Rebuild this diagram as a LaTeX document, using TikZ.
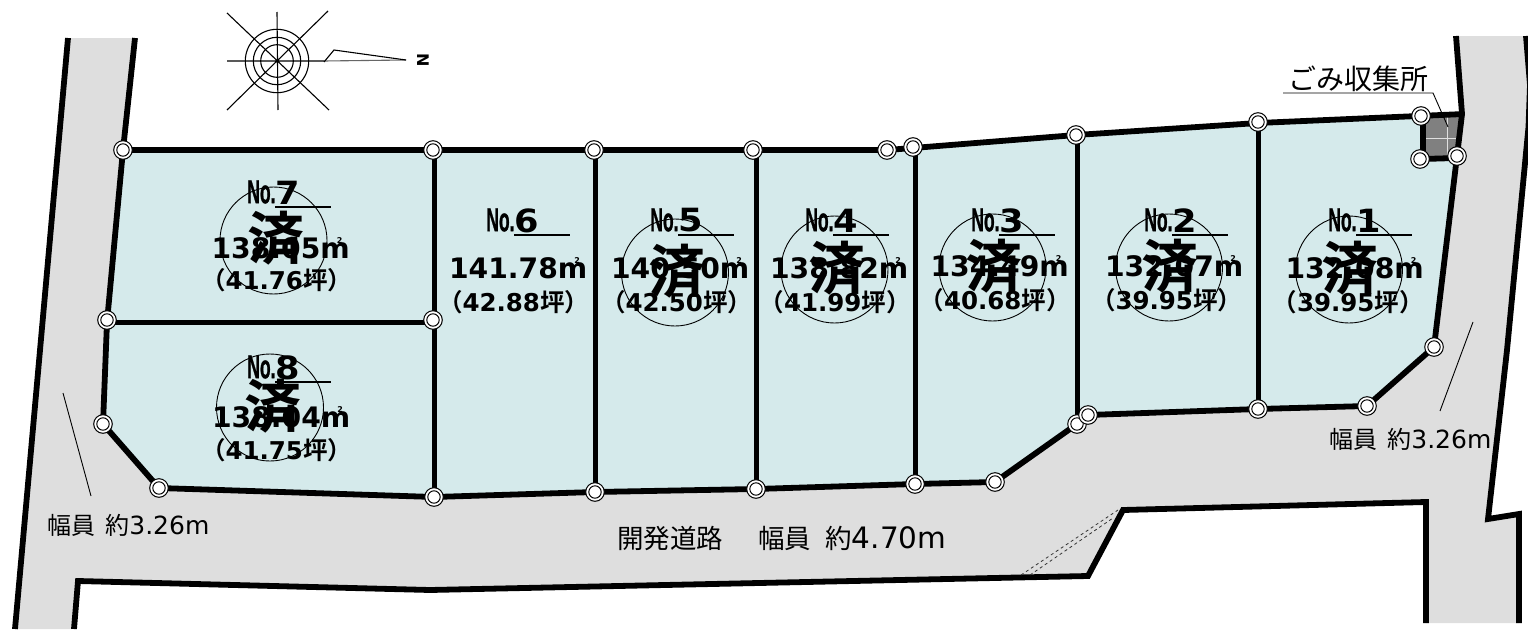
\documentclass[tikz,border=0pt]{standalone}
\usepackage{fontspec}
\usepackage{graphicx}
\setmainfont{DejaVu Sans}
\newfontfamily\lib[FakeBold=1.2]{Liberation Sans Bold}
\newfontfamily\cjk[BoldFont=Noto Sans CJK JP Bold]{Noto Sans CJK JP}
\definecolor{roadc}{HTML}{DEDEDE}
\definecolor{lotc}{HTML}{D5EAEB}
\definecolor{boxc}{HTML}{808080}
\newcommand{\fs}[1]{\fontsize{#1}{#1}\selectfont}
\tikzset{
  plan/.style={line width=5.8pt,line join=miter,black},
  lotline/.style={line width=5pt,black},
  txt/.style={inner sep=0pt,outer sep=0pt,anchor=center,black},
  thinl/.style={line width=0.9pt,black},
}
\newcommand{\pin}[2]{\fill[white] (#1,#2) circle (9.3); \draw[line width=1pt] (#1,#2) circle (9.3); \draw[line width=1pt] (#1,#2) circle (6.2);}
\newcommand{\sqm}{m\raisebox{.54em}{\kern-.46em\fs{8}2}}
\newcommand{\tsubo}[1]{\csname tsb#1\endcsname}
\expandafter\def\csname tsb1\endcsname{39.95}
\expandafter\def\csname tsb2\endcsname{39.95}
\expandafter\def\csname tsb3\endcsname{40.68}
\expandafter\def\csname tsb4\endcsname{41.99}
\expandafter\def\csname tsb5\endcsname{42.50}
\expandafter\def\csname tsb6\endcsname{42.88}
\expandafter\def\csname tsb7\endcsname{41.76}
\expandafter\def\csname tsb8\endcsname{41.75}
% id, underline x, underline y, cx number, y number, area, cx tsubo, y tsubo
\newcommand{\lottext}[8]{%
  \draw[line width=1.2pt] (#2,#3) -- ++(56,0);
  \node[txt,anchor=east] (no#1) at (#2+.5,#3-15) {\scalebox{.53}[1]{\fs{33}\lib No.}};
  \node[txt,anchor=west] (dg#1) at (#2+.5,#3-14.5) {\scalebox{1.1}[1]{\fs{32}\bfseries #1}};
  \node[txt] (ar#1) at (#4,#5) {\fs{28.2}\bfseries #6\sqm};
  \node[txt] (ts#1) at (#7,#8) {\fs{24.5}\bfseries{\cjk（}\tsubo{#1}{\cjk 坪）}};
}
% id, circle x, circle y, mark x, mark y
\newcommand{\sold}[5]{%
  \draw[line width=.9pt] (#2,#3) circle (53.5);
  \node[txt] (sold#1) at (#4,#5) {\fs{57}\cjk\bfseries 済};
}
\begin{document}
\begin{tikzpicture}[x=1pt,y=-1pt]
\useasboundingbox (0,0) rectangle (1528,629);
% road area
\fill[roadc] (68,38) -- (135,38) -- (123,150) -- (107,322) -- (103,424) -- (159,488) -- (995,482) -- (1077,424) -- (1088,415) -- (1367,406) -- (1434,347) -- (1457,156) -- (1462,112) -- (1456,36) -- (1528,36) -- (1528,127) -- (1507,350) -- (1488,519) -- (1519,514) -- (1519,623) -- (1426,623) -- (1426,502) -- (1123,510) -- (1088,576) -- (430,590) -- (78,581) -- (74,629) -- (15,629) -- cycle;
% lots
\fill[lotc] (123,150) -- (913,150) -- (1076,135) -- (1258,123) -- (1461,114) -- (1457,156) -- (1434,347) -- (1367,406) -- (1088,415) -- (1077,424) -- (995,482) -- (434,497) -- (159,488) -- (103,424) -- (107,322) -- cycle;
% collection point
\fill[boxc] (1423,116) -- (1460,114) -- (1456,158) -- (1423,159) -- cycle;
\draw[line width=.7pt,white!75!gray] (1423,138) -- (1458,138) (1447,115) -- (1447,159);
\draw[plan] (1423,116) -- (1423,159) -- (1456,158);
% outer lines
\draw[plan] (68,38) -- (15,629);
\draw[plan] (135,38) -- (123,150) -- (107,322) -- (103,424) -- (159,488) -- (434,497) -- (595,492) -- (756,489) -- (915,484) -- (995,482) -- (1077,424);
\draw[plan] (1088,415) -- (1258,409) -- (1367,406) -- (1434,347) -- (1457,156) -- (1462,114) -- (1456,36);
\draw[plan] (123,150) -- (887,150) -- (913,148) -- (1076,135) -- (1258,123) -- (1464,114);
\draw[plan] (1526,36) -- (1530,85) -- (1528.5,127) -- (1507,350) -- (1488,519) -- (1519,514) -- (1519,623);
\draw[plan] (1426,623) -- (1426,502) -- (1123,510) -- (1088,576) -- (430,590) -- (78,581) -- (74,629);
% lot lines
\draw[lotline] (434,150) -- (434,497) (595,150) -- (595,492) (756,150) -- (756,489) (915,147) -- (915,484) (1077,135) -- (1077,424) (1258,123) -- (1258,409) (107,322) -- (433,322);
% dashed driveway
\draw[line width=.8pt,dashed,black!80] (1021,575) -- (1118,510) (1030,575) -- (1113,518);
% pins
\pin{123}{150}\pin{433}{150}\pin{594}{150}\pin{753}{150}\pin{887}{150}\pin{913}{147}\pin{1076}{135}\pin{1258}{122}\pin{1421}{116}\pin{1420}{159}\pin{1457}{156}\pin{1434}{347}\pin{1367}{406}\pin{1258}{409}\pin{1077}{424}\pin{1088}{415}\pin{995}{482}\pin{915}{484}\pin{756}{489}\pin{595}{492}\pin{434}{497}\pin{159}{488}\pin{103}{424}\pin{107}{320}\pin{433}{320}
% compass
\draw[line width=1.1pt] (277,61) circle (31.7) (277,61) circle (23.7) (277,61) circle (16.3);
\draw[line width=1.1pt] (227,13) -- (329,110) (328,11) -- (227,110) (277,12) -- (278,110) (227,61) -- (324,61);
\draw[line width=1.1pt,black!60] (324,61) -- (406,60);
\draw[line width=1.1pt] (324,62) -- (334,50) -- (406,60);
\node[txt,rotate=-90] (north) at (423,60) {\fs{16}\bfseries N};
% lot labels
\sold{7}{273.5}{240.5}{275.5}{238}
\sold{8}{270}{407.5}{273}{406}
\sold{5}{675}{272.5}{677}{271}
\sold{4}{834.5}{269.5}{837}{268}
\sold{3}{992.5}{267.5}{994}{266}
\sold{2}{1169}{267.5}{1170}{266}
\sold{1}{1349}{269.5}{1350}{268}
\lottext{7}{275}{207}{277}{248}{138.05}{276.5}{280}
\lottext{6}{514}{235}{514.5}{268}{141.78}{513.5}{302}
\lottext{5}{678}{235}{676.5}{268}{140.50}{676.5}{302}
\lottext{4}{833}{235}{835.5}{268}{138.82}{835}{302}
\lottext{3}{999}{235}{996}{266}{134.49}{995}{300}
\lottext{2}{1172}{235}{1170.5}{266}{132.07}{1166.5}{300}
\lottext{1}{1356}{235}{1351}{268}{132.08}{1348}{302}
\lottext{8}{275}{382}{277.5}{417}{138.04}{276.5}{450}
% road labels
\node[txt,anchor=west] (main) at (617,538) {\fs{26.5}{\cjk 開発道路　\kern9pt 幅員 \kern8pt 約}\fs{29.5}4.70m};
\node[txt,anchor=west] (west) at (47,525) {\fs{24}{\cjk 幅員 \kern5pt 約}\fs{25}3.26m};
\node[txt,anchor=west] (east) at (1329,439) {\fs{24}{\cjk 幅員 \kern5pt 約}\fs{25}3.26m};
\draw[thinl] (63,393) -- (91,496);
\draw[thinl] (1473,322) -- (1440,411);
% collection label
\node[txt,anchor=west] (gomi) at (1288,79) {\fs{28}\cjk ごみ収集所};
\coordinate (lead0) at (1283,93);
\coordinate (lead1) at (1433,93);
\coordinate (lead2) at (1448,127);
\draw[thinl] (lead0) -- (lead1) -- (lead2);
\end{tikzpicture}
\end{document}
